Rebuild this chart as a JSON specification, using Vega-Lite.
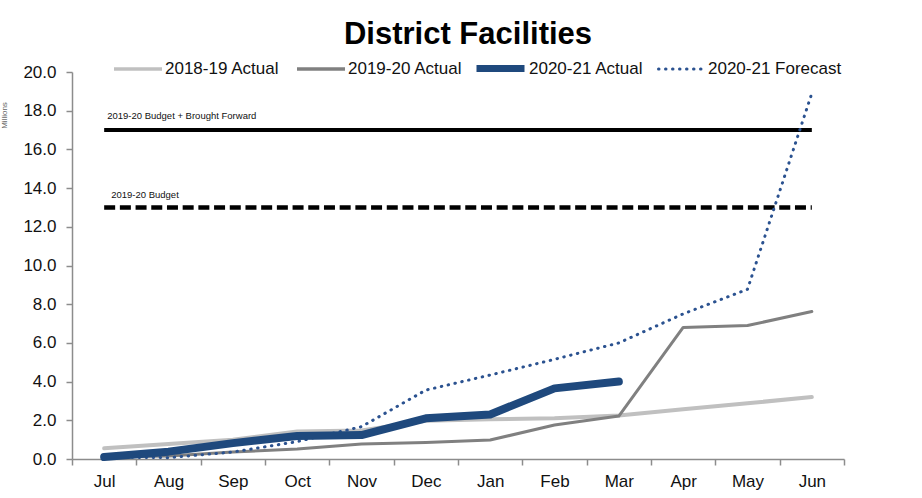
{
  "$schema": "https://vega.github.io/schema/vega-lite/v6.json",
  "width": 772,
  "height": 387,
  "autosize": "none",
  "padding": {"left": 72, "top": 72, "right": 78, "bottom": 39},
  "background": "white",
  "config": {"view": {"stroke": null}, "font": "Liberation Sans"},
  "title": {"text": "District Facilities", "fontSize": 31, "font": "Liberation Sans", "fontWeight": "bold", "color": "#000000", "anchor": "middle", "dx": 10, "offset": -10},
  "datasets": {
    "budgets": [
      {"line": "2019-20 Budget + Brought Forward", "month": "Jul", "value": 17},
      {"line": "2019-20 Budget + Brought Forward", "month": "Jun", "value": 17},
      {"line": "2019-20 Budget", "month": "Jul", "value": 13},
      {"line": "2019-20 Budget", "month": "Jun", "value": 13}
    ],
    "series": [
      {"month": "Jul", "series": "2018-19 Actual", "value": 0.55},
      {"month": "Aug", "series": "2018-19 Actual", "value": 0.78},
      {"month": "Sep", "series": "2018-19 Actual", "value": 1.0},
      {"month": "Oct", "series": "2018-19 Actual", "value": 1.42},
      {"month": "Nov", "series": "2018-19 Actual", "value": 1.47},
      {"month": "Dec", "series": "2018-19 Actual", "value": 1.98},
      {"month": "Jan", "series": "2018-19 Actual", "value": 2.05},
      {"month": "Feb", "series": "2018-19 Actual", "value": 2.1},
      {"month": "Mar", "series": "2018-19 Actual", "value": 2.25},
      {"month": "Apr", "series": "2018-19 Actual", "value": 2.57},
      {"month": "May", "series": "2018-19 Actual", "value": 2.88},
      {"month": "Jun", "series": "2018-19 Actual", "value": 3.2},
      {"month": "Jul", "series": "2019-20 Actual", "value": 0.1},
      {"month": "Aug", "series": "2019-20 Actual", "value": 0.15},
      {"month": "Sep", "series": "2019-20 Actual", "value": 0.36},
      {"month": "Oct", "series": "2019-20 Actual", "value": 0.52},
      {"month": "Nov", "series": "2019-20 Actual", "value": 0.77},
      {"month": "Dec", "series": "2019-20 Actual", "value": 0.85},
      {"month": "Jan", "series": "2019-20 Actual", "value": 0.98},
      {"month": "Feb", "series": "2019-20 Actual", "value": 1.76},
      {"month": "Mar", "series": "2019-20 Actual", "value": 2.22},
      {"month": "Apr", "series": "2019-20 Actual", "value": 6.8},
      {"month": "May", "series": "2019-20 Actual", "value": 6.9},
      {"month": "Jun", "series": "2019-20 Actual", "value": 7.62},
      {"month": "Jul", "series": "2020-21 Forecast", "value": 0.1},
      {"month": "Aug", "series": "2020-21 Forecast", "value": 0.07},
      {"month": "Sep", "series": "2020-21 Forecast", "value": 0.36},
      {"month": "Oct", "series": "2020-21 Forecast", "value": 0.9},
      {"month": "Nov", "series": "2020-21 Forecast", "value": 1.67},
      {"month": "Dec", "series": "2020-21 Forecast", "value": 3.56},
      {"month": "Jan", "series": "2020-21 Forecast", "value": 4.34},
      {"month": "Feb", "series": "2020-21 Forecast", "value": 5.15},
      {"month": "Mar", "series": "2020-21 Forecast", "value": 6.0},
      {"month": "Apr", "series": "2020-21 Forecast", "value": 7.5},
      {"month": "May", "series": "2020-21 Forecast", "value": 8.77},
      {"month": "Jun", "series": "2020-21 Forecast", "value": 18.9},
      {"month": "Jul", "series": "2020-21 Actual", "value": 0.1},
      {"month": "Aug", "series": "2020-21 Actual", "value": 0.38},
      {"month": "Sep", "series": "2020-21 Actual", "value": 0.82},
      {"month": "Oct", "series": "2020-21 Actual", "value": 1.19},
      {"month": "Nov", "series": "2020-21 Actual", "value": 1.24},
      {"month": "Dec", "series": "2020-21 Actual", "value": 2.1},
      {"month": "Jan", "series": "2020-21 Actual", "value": 2.3},
      {"month": "Feb", "series": "2020-21 Actual", "value": 3.65},
      {"month": "Mar", "series": "2020-21 Actual", "value": 4.0}
    ]
  },
  "encoding": {
    "x": {
      "field": "month", "type": "nominal",
      "scale": {"type": "band", "paddingInner": 0, "paddingOuter": 0,
        "domain": ["Jul", "Aug", "Sep", "Oct", "Nov", "Dec", "Jan", "Feb", "Mar", "Apr", "May", "Jun"]},
      "axis": {"title": null, "labelAngle": 0, "tickBand": "extent", "domainColor": "#8c8c8c", "domainWidth": 1.5, "tickColor": "#8c8c8c", "tickWidth": 1.5, "tickSize": 6, "labelFontSize": 17, "labelColor": "#111111", "labelPadding": 8, "labelFont": "Liberation Sans"}
    },
    "y": {
      "field": "value", "type": "quantitative",
      "scale": {"domain": [0, 20], "nice": false},
      "axis": {"title": "Millions", "titleFontSize": 8, "titleColor": "#666666", "titleFontWeight": "normal", "titleX": -64, "titleY": 43, "values": [0, 2, 4, 6, 8, 10, 12, 14, 16, 18, 20], "format": ".1f", "grid": false, "domainColor": "#8c8c8c", "domainWidth": 1.5, "tickColor": "#8c8c8c", "tickWidth": 1.5, "tickSize": 6, "labelFontSize": 17, "labelColor": "#111111", "labelPadding": 10, "labelFont": "Liberation Sans"}
    }
  },
  "layer": [
    {
      "data": {"name": "budgets"},
      "transform": [{"filter": "datum.line === '2019-20 Budget + Brought Forward'"}],
      "mark": {"type": "line", "color": "#000000", "strokeWidth": 4},
      "encoding": {}
    },
    {
      "data": {"name": "budgets"},
      "transform": [{"filter": "datum.line === '2019-20 Budget'"}],
      "mark": {"type": "line", "color": "#000000", "strokeWidth": 4.5, "strokeDash": [11, 4.7]},
      "encoding": {}
    },
    {
      "data": {"name": "budgets"},
      "transform": [{"filter": "datum.line === '2019-20 Budget + Brought Forward' && datum.month === 'Jul'"}],
      "mark": {"type": "text", "align": "left", "baseline": "alphabetic", "dx": 3, "dy": -11, "fontSize": 9.5, "font": "Liberation Sans", "color": "#111111"},
      "encoding": {"text": {"field": "line"}}
    },
    {
      "data": {"name": "budgets"},
      "transform": [{"filter": "datum.line === '2019-20 Budget' && datum.month === 'Jul'"}],
      "mark": {"type": "text", "align": "left", "baseline": "alphabetic", "dx": 7, "dy": -9.5, "fontSize": 9.5, "font": "Liberation Sans", "color": "#111111"},
      "encoding": {"text": {"field": "line"}}
    },
    {
      "data": {"name": "series"},
      "transform": [{"filter": "datum.series === '2018-19 Actual' || datum.series === '2019-20 Actual'"}],
      "mark": {"type": "line", "strokeCap": "round", "strokeJoin": "round"},
      "encoding": {
        "color": {
          "field": "series", "type": "nominal",
          "scale": {"domain": ["2018-19 Actual", "2019-20 Actual"], "range": ["#c0c0c0", "#808080"]},
          "legend": {"title": null, "orient": "none", "legendX": 40, "legendY": -29, "direction": "horizontal", "symbolType": "stroke", "symbolSize": 2304, "symbolStrokeWidth": 3.5, "labelFontSize": 17, "labelColor": "#111111", "labelFont": "Liberation Sans", "columnPadding": 10, "labelOffset": 1, "padding": 0}
        },
        "strokeWidth": {"condition": {"test": "datum.series === '2018-19 Actual'", "value": 4}, "value": 3}
      }
    },
    {
      "data": {"name": "series"},
      "transform": [{"filter": "datum.series === '2020-21 Forecast'"}],
      "mark": {"type": "line", "strokeCap": "round", "strokeJoin": "round", "strokeWidth": 3, "color": "#2b5290"},
      "encoding": {
        "strokeDash": {
          "field": "series", "type": "nominal",
          "scale": {"domain": ["2020-21 Forecast"], "range": [[0.5, 6.5]]},
          "legend": {"title": null, "orient": "none", "legendX": 585, "legendY": -27, "direction": "horizontal", "symbolType": "stroke", "symbolSize": 2025, "symbolStrokeWidth": 3, "symbolStrokeColor": "#2b5290", "labelFontSize": 17, "labelColor": "#111111", "labelFont": "Liberation Sans", "labelOffset": 3, "padding": 0,
            "encode": {"symbols": {"update": {"strokeCap": {"value": "round"}}}}}
        }
      }
    },
    {
      "data": {"name": "series"},
      "transform": [{"filter": "datum.series === '2020-21 Actual'"}],
      "mark": {"type": "line", "strokeCap": "round", "strokeJoin": "round", "strokeWidth": 8},
      "encoding": {
        "stroke": {
          "field": "series", "type": "nominal",
          "scale": {"domain": ["2020-21 Actual"], "range": ["#1f497d"]},
          "legend": {"title": null, "orient": "none", "legendX": 401, "legendY": -31, "direction": "horizontal", "symbolType": "stroke", "symbolSize": 2304, "symbolStrokeWidth": 7, "labelFontSize": 17, "labelColor": "#111111", "labelFont": "Liberation Sans", "labelOffset": 1, "padding": 0}
        }
      }
    }
  ]
}
